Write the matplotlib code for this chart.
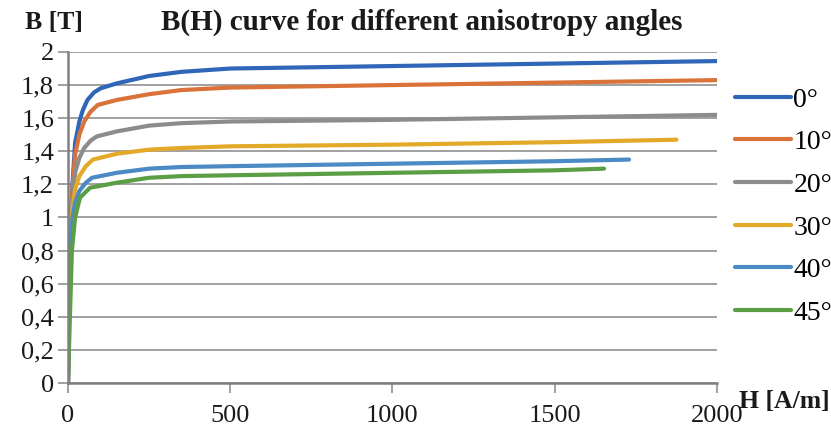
import matplotlib
matplotlib.use('Agg')
import matplotlib.pyplot as plt
from matplotlib.ticker import FuncFormatter

# magnetization curves, H in A/m, B in T
angles = ["0°", "10°", "20°", "30°", "40°", "45°"]
colors = ["#2f66b8", "#d9733a", "#8c8c8c", "#e3aa2a", "#4b8ac4", "#5b9e45"]

h_0 = [0, 4, 8, 14, 22, 35, 46, 60, 80, 100, 150, 250, 350, 500, 1000, 1500, 2000]
b_0 = [0, 0.55, 0.95, 1.2, 1.45, 1.58, 1.65, 1.71, 1.755, 1.78, 1.81, 1.855, 1.88, 1.90, 1.915, 1.93, 1.945]

h_10 = [0, 4, 8, 14, 22, 35, 50, 70, 92, 150, 250, 350, 500, 1000, 1500, 2000]
b_10 = [0, 0.55, 0.95, 1.18, 1.38, 1.5, 1.58, 1.64, 1.68, 1.71, 1.745, 1.77, 1.785, 1.80, 1.815, 1.83]

h_20 = [0, 4, 8, 14, 22, 35, 50, 70, 89, 150, 250, 350, 500, 1000, 1500, 2000]
b_20 = [0, 0.55, 0.92, 1.12, 1.27, 1.36, 1.42, 1.465, 1.49, 1.52, 1.555, 1.57, 1.58, 1.59, 1.605, 1.62]

h_30 = [0, 4, 8, 14, 22, 35, 55, 77, 150, 250, 350, 500, 1000, 1500, 1875]
b_30 = [0, 0.55, 0.9, 1.06, 1.17, 1.25, 1.31, 1.35, 1.385, 1.41, 1.42, 1.43, 1.44, 1.455, 1.47]

h_40 = [0, 4, 8, 14, 22, 35, 55, 74, 150, 250, 350, 500, 1000, 1500, 1729]
b_40 = [0, 0.5, 0.85, 1.0, 1.09, 1.16, 1.21, 1.24, 1.27, 1.295, 1.305, 1.31, 1.325, 1.34, 1.35]

h_45 = [0, 3, 6, 12, 22, 37, 68, 150, 250, 350, 500, 1000, 1500, 1652]
b_45 = [0, 0.2, 0.4, 0.8, 1.0, 1.12, 1.18, 1.21, 1.24, 1.25, 1.255, 1.27, 1.285, 1.295]

curves = [(h_0, b_0), (h_10, b_10), (h_20, b_20), (h_30, b_30), (h_40, b_40), (h_45, b_45)]

plt.rcParams['font.family'] = ['Liberation Serif', 'DejaVu Serif']

fig = plt.figure(figsize=(8.31, 4.26), dpi=100)
ax = fig.add_axes([0.0818, 0.1009, 0.7810, 0.7771])

for (h, b), name, c in zip(curves, angles, colors):
    ax.plot(h, b, color=c, lw=3, label=name, solid_capstyle='round')

ax.set_xlim(0, 2000)
ax.set_ylim(0, 2)
ax.set_xticks([0, 500, 1000, 1500, 2000])
ax.set_yticks([0, 0.2, 0.4, 0.6, 0.8, 1, 1.2, 1.4, 1.6, 1.8, 2])
ax.yaxis.set_major_formatter(FuncFormatter(lambda v, p: f"{v:g}".replace(".", ",")))
ax.grid(axis='y', color='#9a9a9a', lw=1.3)
ax.set_axisbelow(True)
for s in ['top', 'right']:
    ax.spines[s].set_visible(False)
for s in ['left', 'bottom']:
    ax.spines[s].set_color('#808080')
    ax.spines[s].set_linewidth(1.8)
ax.tick_params(axis='both', labelsize=19, colors='#909090', labelcolor='#1a1a1a', length=7, width=1.2)
ax.tick_params(axis='x', pad=9)
ax.tick_params(axis='y', pad=3)

fig.text(0.507, 0.948, "B(H) curve for different anisotropy angles", ha='center', va='center',
         fontsize=21, fontweight='bold', color='#1a1a1a')
fig.text(0.065, 0.948, "B [T]", ha='center', va='center', fontsize=18.5, fontweight='bold', color='#1a1a1a')
fig.text(0.944, 0.058, "H [A/m]", ha='center', va='center', fontsize=18.5, fontweight='bold', color='#1a1a1a')

ax.legend(loc='upper left', bbox_to_anchor=(1.028, 0.894), frameon=False, fontsize=20,
          handlelength=2.0, handletextpad=0.1, labelspacing=0.62, borderaxespad=0,
          borderpad=0)

fig.savefig("out.png", dpi=100)
